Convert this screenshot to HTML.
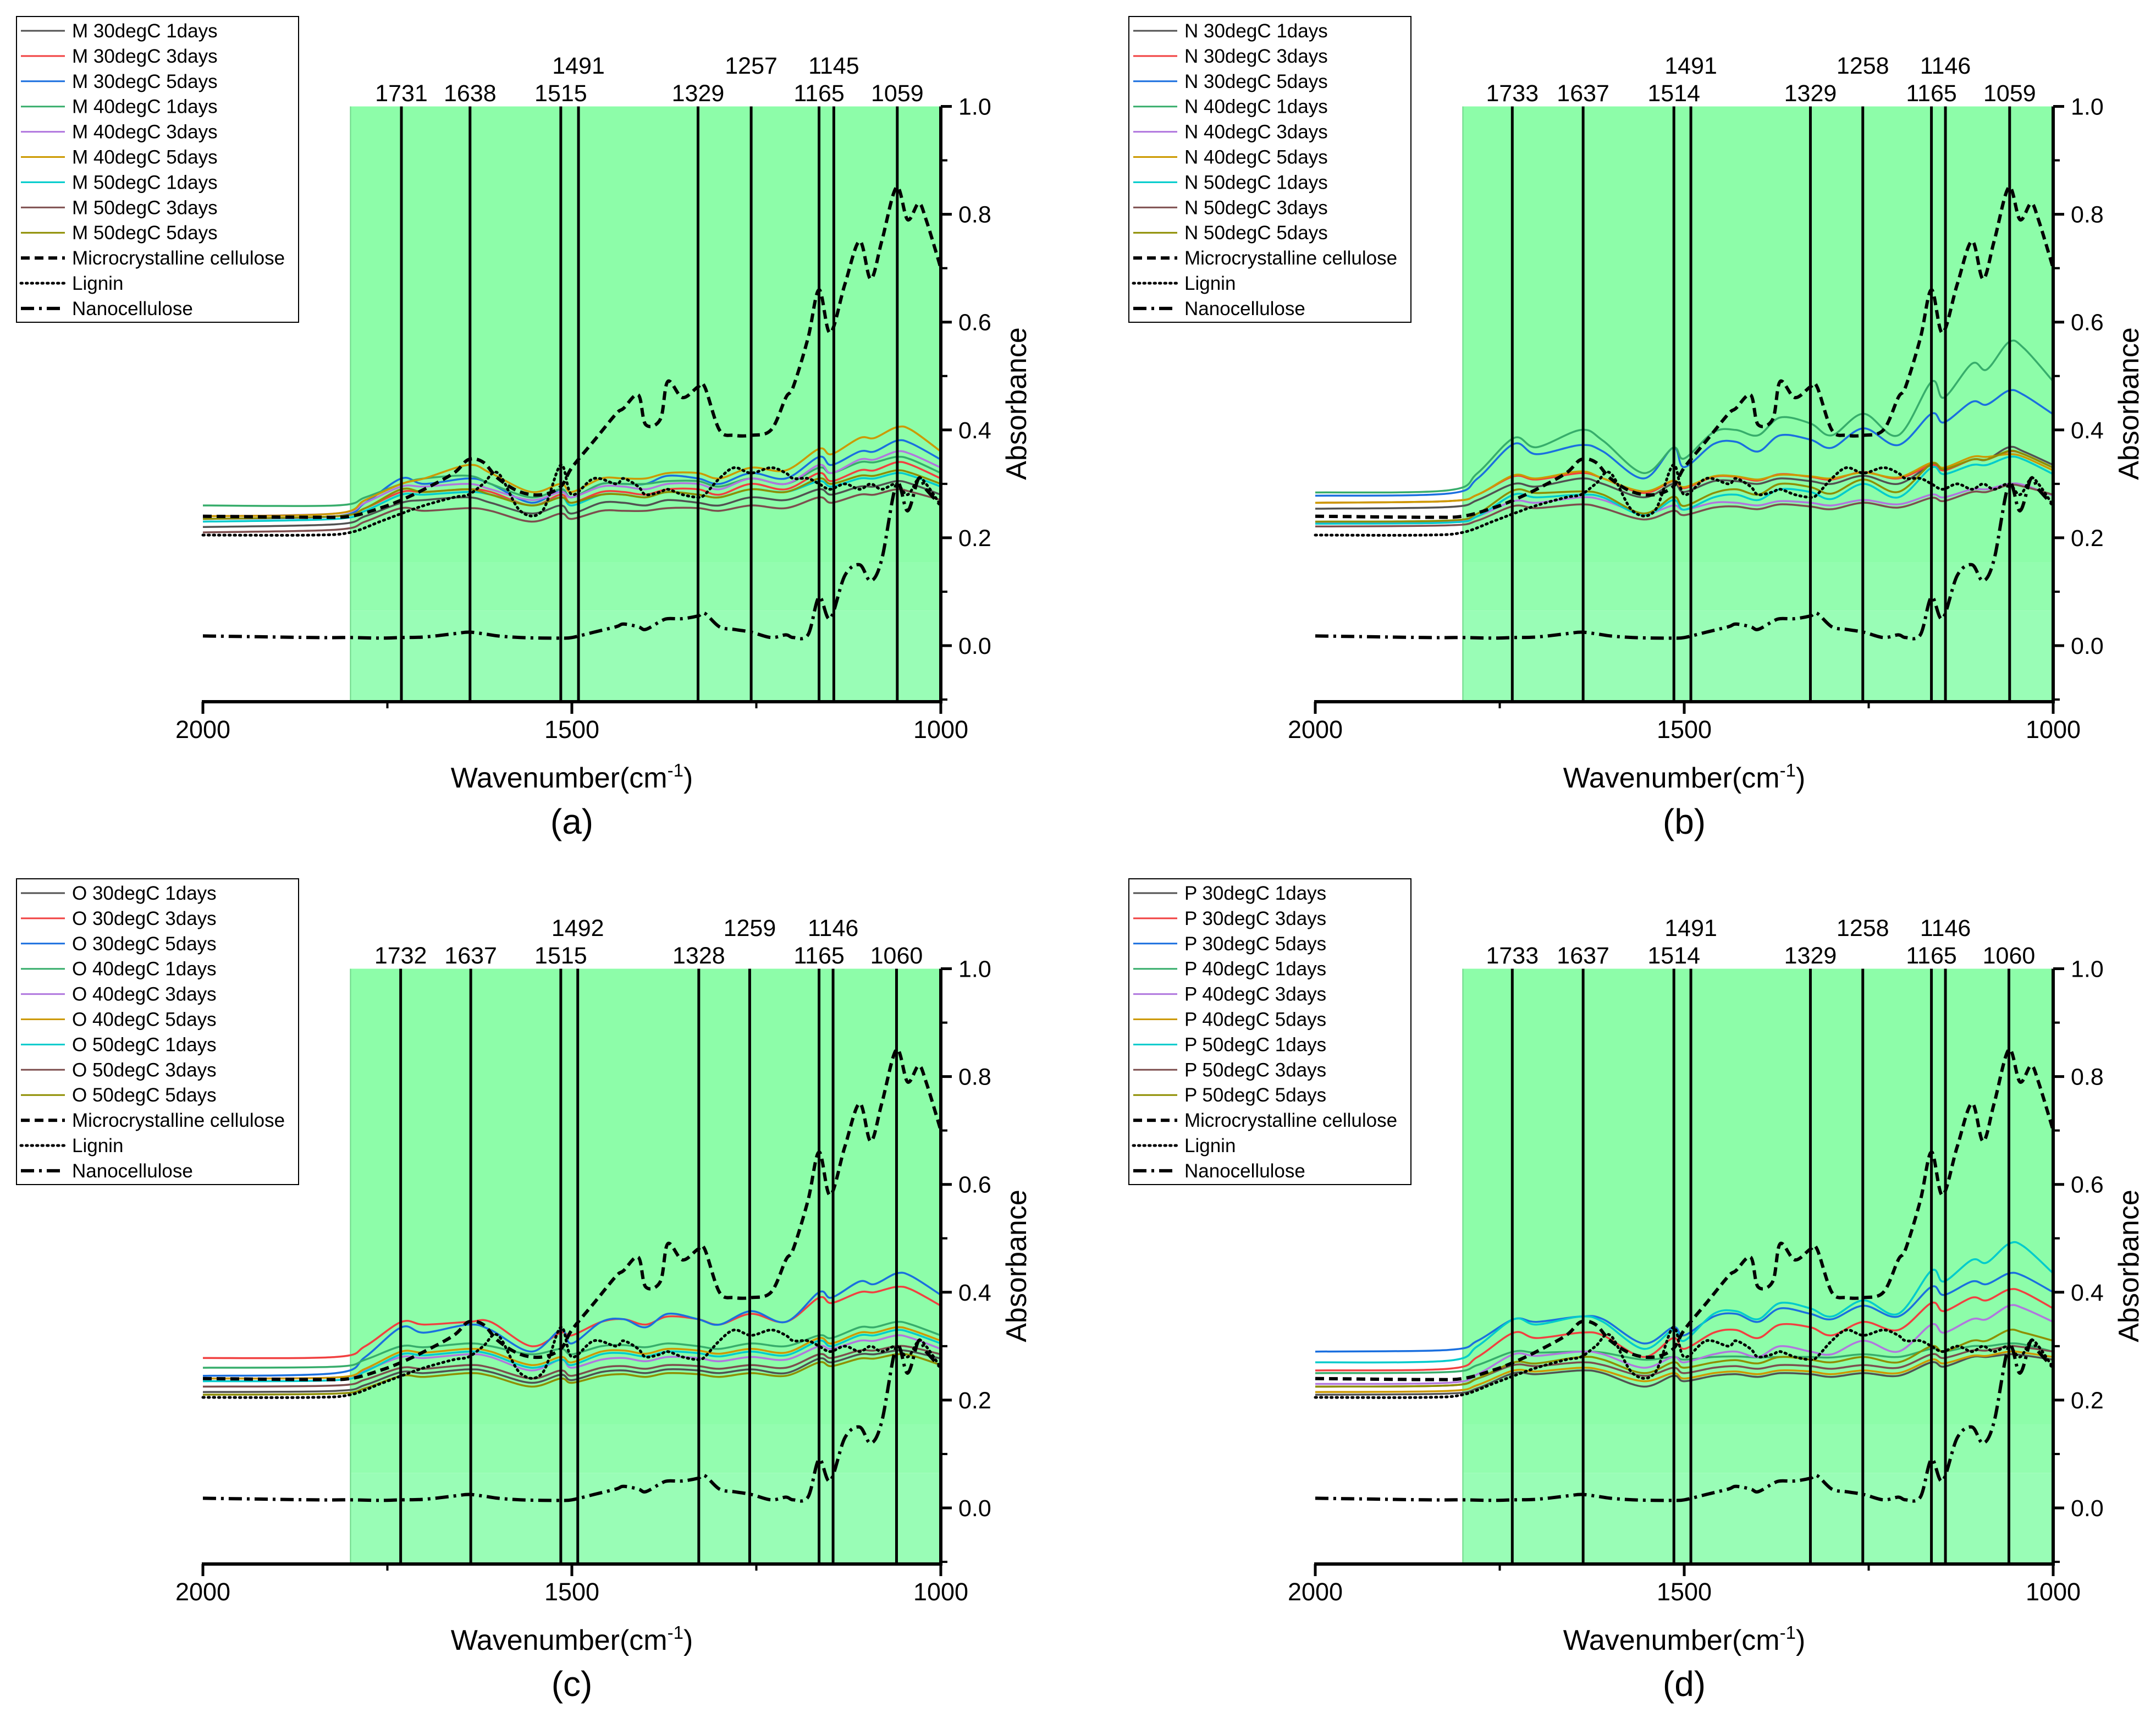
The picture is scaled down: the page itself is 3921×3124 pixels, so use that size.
<!DOCTYPE html>
<html><head><meta charset="utf-8"><style>
html,body{margin:0;padding:0;background:#fff}
svg{display:block}
text{font-family:"Liberation Sans",Arial,sans-serif;fill:#000}
</style></head><body>
<svg id="chart" xmlns="http://www.w3.org/2000/svg" width="3921" height="3124" viewBox="0 0 3921 3124"></svg>
<script>
// ---- data ----
const sampleWavenumbers = [2000,1820,1780,1731,1700,1640,1610,1555,1515,1500,1460,1430,1400,1370,1329,1300,1257,1210,1165,1148,1110,1090,1060,1040,1000];
const refWavenumbers = [2000,1850,1800,1760,1731,1700,1660,1640,1620,1600,1570,1540,1515,1500,1470,1440,1430,1410,1400,1380,1370,1350,1329,1320,1300,1280,1257,1230,1210,1200,1180,1165,1150,1130,1110,1095,1080,1060,1045,1030,1020,1000];
const mccValues = [0.24,0.238,0.24,0.255,0.27,0.29,0.32,0.345,0.34,0.31,0.285,0.28,0.295,0.33,0.38,0.43,0.44,0.465,0.41,0.42,0.49,0.46,0.48,0.48,0.40,0.39,0.39,0.40,0.46,0.48,0.57,0.66,0.58,0.67,0.75,0.68,0.75,0.85,0.79,0.82,0.79,0.70];
const ligninValues = [0.205,0.205,0.21,0.23,0.245,0.26,0.275,0.28,0.30,0.32,0.25,0.25,0.335,0.28,0.31,0.30,0.31,0.295,0.28,0.285,0.29,0.28,0.275,0.28,0.31,0.33,0.32,0.33,0.32,0.31,0.31,0.30,0.29,0.30,0.29,0.30,0.29,0.30,0.28,0.31,0.30,0.26];
const nanoValues = [0.018,0.015,0.015,0.014,0.015,0.016,0.022,0.025,0.022,0.018,0.015,0.014,0.014,0.015,0.025,0.035,0.04,0.035,0.03,0.045,0.05,0.05,0.055,0.06,0.035,0.03,0.025,0.015,0.02,0.015,0.02,0.09,0.05,0.13,0.15,0.12,0.16,0.30,0.25,0.31,0.29,0.26];
const seriesNames = ["30degC 1days","30degC 3days","30degC 5days","40degC 1days","40degC 3days","40degC 5days","50degC 1days","50degC 3days","50degC 5days"];
const panelLetters = ["M","N","O","P"];
const panelTags = ["(a)","(b)","(c)","(d)"];
const yTicks = [0.0,0.2,0.4,0.6,0.8,1.0];
const yTickLabels = ["0.0","0.2","0.4","0.6","0.8","1.0"];
const xTicks = [2000,1500,1000];
const xTickLabels = ["2000","1500","1000"];
const peaksLowA = [1731,1638,1515,1329,1165,1059], peaksHighA = [1491,1257,1145];
const peaksLowB = [1733,1637,1514,1329,1165,1059], peaksHighB = [1491,1258,1146];
const peaksLowC = [1732,1637,1515,1328,1165,1060], peaksHighC = [1492,1259,1146];
const peaksLowD = [1733,1637,1514,1329,1165,1060], peaksHighD = [1491,1258,1146];
const panelA = [
[0.22,0.225,0.24,0.265,0.27,0.275,0.265,0.245,0.26,0.245,0.265,0.265,0.26,0.27,0.265,0.26,0.275,0.27,0.29,0.28,0.295,0.295,0.305,0.30,0.28],
[0.235,0.24,0.255,0.285,0.285,0.29,0.285,0.26,0.28,0.265,0.285,0.285,0.28,0.29,0.29,0.28,0.30,0.29,0.32,0.305,0.325,0.325,0.34,0.335,0.31],
[0.235,0.24,0.265,0.31,0.30,0.31,0.30,0.265,0.29,0.275,0.30,0.30,0.30,0.315,0.31,0.30,0.32,0.31,0.35,0.335,0.36,0.36,0.38,0.375,0.345],
[0.26,0.26,0.275,0.30,0.31,0.315,0.30,0.275,0.29,0.275,0.30,0.30,0.30,0.305,0.305,0.295,0.31,0.30,0.33,0.32,0.34,0.34,0.35,0.345,0.32],
[0.24,0.245,0.265,0.295,0.295,0.30,0.29,0.27,0.285,0.275,0.295,0.295,0.29,0.30,0.30,0.29,0.31,0.30,0.335,0.32,0.345,0.345,0.36,0.355,0.33],
[0.24,0.245,0.27,0.30,0.31,0.335,0.32,0.285,0.30,0.285,0.31,0.31,0.31,0.32,0.32,0.31,0.33,0.325,0.365,0.355,0.385,0.385,0.405,0.40,0.36],
[0.23,0.235,0.25,0.28,0.28,0.285,0.28,0.26,0.275,0.26,0.28,0.28,0.275,0.285,0.28,0.275,0.29,0.285,0.305,0.295,0.31,0.31,0.32,0.315,0.295],
[0.21,0.215,0.23,0.255,0.25,0.255,0.25,0.23,0.245,0.235,0.25,0.25,0.25,0.255,0.255,0.25,0.26,0.255,0.275,0.265,0.28,0.28,0.29,0.285,0.27],
[0.235,0.24,0.255,0.29,0.285,0.29,0.28,0.26,0.275,0.265,0.28,0.28,0.275,0.285,0.28,0.275,0.29,0.285,0.31,0.30,0.315,0.315,0.325,0.32,0.30]];
const panelB = [
[0.254,0.257,0.27,0.30,0.295,0.31,0.30,0.275,0.30,0.285,0.305,0.305,0.30,0.31,0.305,0.30,0.315,0.30,0.335,0.325,0.345,0.345,0.368,0.36,0.335],
[0.265,0.268,0.28,0.314,0.308,0.32,0.31,0.283,0.305,0.292,0.313,0.313,0.306,0.318,0.313,0.308,0.322,0.31,0.335,0.325,0.345,0.345,0.36,0.355,0.33],
[0.278,0.282,0.31,0.374,0.355,0.372,0.36,0.31,0.367,0.331,0.374,0.378,0.36,0.39,0.382,0.367,0.403,0.372,0.43,0.414,0.452,0.447,0.473,0.465,0.429],
[0.284,0.288,0.32,0.385,0.368,0.40,0.38,0.32,0.367,0.347,0.396,0.40,0.39,0.423,0.412,0.39,0.43,0.39,0.489,0.46,0.523,0.512,0.563,0.552,0.49],
[0.228,0.23,0.24,0.268,0.265,0.275,0.27,0.245,0.26,0.252,0.265,0.265,0.26,0.268,0.265,0.26,0.27,0.262,0.28,0.275,0.29,0.29,0.30,0.298,0.278],
[0.265,0.268,0.28,0.316,0.31,0.323,0.31,0.286,0.306,0.294,0.314,0.314,0.308,0.317,0.314,0.31,0.321,0.312,0.339,0.33,0.35,0.35,0.355,0.35,0.325],
[0.226,0.228,0.24,0.28,0.275,0.28,0.275,0.242,0.27,0.252,0.275,0.28,0.27,0.29,0.285,0.272,0.30,0.275,0.33,0.318,0.335,0.335,0.35,0.345,0.318],
[0.221,0.223,0.232,0.259,0.255,0.262,0.255,0.234,0.25,0.242,0.256,0.258,0.253,0.262,0.258,0.253,0.265,0.256,0.274,0.268,0.285,0.285,0.298,0.295,0.28],
[0.23,0.232,0.245,0.288,0.283,0.286,0.28,0.245,0.276,0.259,0.283,0.29,0.28,0.30,0.294,0.282,0.308,0.285,0.337,0.327,0.345,0.345,0.361,0.355,0.33]];
const panelC = [
[0.215,0.217,0.228,0.252,0.25,0.257,0.252,0.232,0.247,0.237,0.252,0.255,0.25,0.257,0.255,0.25,0.257,0.25,0.277,0.27,0.285,0.285,0.292,0.29,0.277],
[0.278,0.28,0.30,0.345,0.34,0.345,0.345,0.30,0.325,0.32,0.345,0.35,0.34,0.355,0.35,0.34,0.36,0.345,0.39,0.38,0.40,0.40,0.41,0.405,0.375],
[0.245,0.25,0.28,0.335,0.325,0.34,0.33,0.29,0.33,0.305,0.345,0.35,0.335,0.36,0.35,0.34,0.365,0.345,0.40,0.39,0.42,0.415,0.435,0.43,0.395],
[0.26,0.262,0.275,0.30,0.298,0.305,0.30,0.285,0.295,0.285,0.30,0.302,0.298,0.305,0.30,0.295,0.305,0.30,0.32,0.315,0.335,0.335,0.345,0.34,0.32],
[0.24,0.242,0.255,0.28,0.278,0.285,0.28,0.255,0.275,0.26,0.275,0.278,0.272,0.28,0.278,0.272,0.28,0.275,0.30,0.295,0.31,0.31,0.32,0.315,0.295],
[0.24,0.242,0.258,0.29,0.288,0.295,0.29,0.265,0.28,0.27,0.29,0.292,0.286,0.295,0.292,0.286,0.295,0.288,0.315,0.305,0.325,0.325,0.335,0.33,0.31],
[0.235,0.237,0.253,0.285,0.283,0.29,0.285,0.26,0.275,0.265,0.285,0.287,0.281,0.29,0.287,0.281,0.29,0.283,0.31,0.30,0.32,0.32,0.33,0.325,0.305],
[0.225,0.227,0.238,0.26,0.258,0.265,0.26,0.24,0.255,0.245,0.26,0.263,0.258,0.265,0.263,0.258,0.265,0.26,0.285,0.278,0.292,0.292,0.30,0.298,0.285],
[0.21,0.212,0.222,0.245,0.243,0.25,0.245,0.225,0.24,0.232,0.245,0.248,0.243,0.25,0.248,0.243,0.25,0.245,0.27,0.263,0.277,0.277,0.285,0.283,0.265]];
const panelD = [
[0.21,0.212,0.222,0.25,0.248,0.255,0.25,0.225,0.245,0.235,0.245,0.248,0.243,0.25,0.248,0.243,0.25,0.245,0.27,0.262,0.28,0.28,0.285,0.283,0.275],
[0.255,0.258,0.28,0.325,0.315,0.325,0.32,0.28,0.315,0.295,0.325,0.33,0.315,0.34,0.335,0.32,0.345,0.33,0.38,0.365,0.39,0.385,0.405,0.40,0.37],
[0.29,0.293,0.31,0.35,0.345,0.355,0.35,0.305,0.335,0.32,0.355,0.36,0.345,0.37,0.36,0.35,0.375,0.355,0.41,0.395,0.42,0.415,0.435,0.43,0.40],
[0.25,0.252,0.265,0.29,0.288,0.29,0.288,0.275,0.28,0.275,0.28,0.281,0.279,0.28,0.28,0.279,0.285,0.28,0.295,0.29,0.30,0.30,0.305,0.303,0.29],
[0.23,0.232,0.248,0.285,0.282,0.29,0.285,0.26,0.28,0.27,0.285,0.29,0.28,0.30,0.29,0.285,0.31,0.29,0.34,0.325,0.35,0.35,0.375,0.37,0.345],
[0.215,0.217,0.228,0.255,0.253,0.26,0.255,0.235,0.25,0.24,0.25,0.253,0.248,0.255,0.253,0.248,0.255,0.25,0.275,0.268,0.282,0.282,0.29,0.288,0.28],
[0.27,0.273,0.30,0.35,0.34,0.355,0.345,0.295,0.33,0.31,0.36,0.365,0.35,0.38,0.37,0.355,0.385,0.36,0.44,0.42,0.46,0.455,0.49,0.485,0.435],
[0.225,0.227,0.24,0.265,0.263,0.27,0.265,0.245,0.26,0.25,0.26,0.263,0.258,0.265,0.263,0.258,0.265,0.26,0.285,0.278,0.292,0.292,0.30,0.298,0.29],
[0.225,0.227,0.24,0.27,0.268,0.28,0.275,0.25,0.27,0.26,0.27,0.274,0.268,0.28,0.275,0.27,0.28,0.27,0.30,0.29,0.31,0.31,0.33,0.325,0.31]];

// ---- rendering ----
const colors = ["#515151","#F14040","#1A6FDF","#37AD6B","#B177DE","#CC9900","#00CBCC","#7D4E4E","#8E8E00"];
const NS = "http://www.w3.org/2000/svg";
const svg = document.getElementById("chart");
function mk(tag, attrs, parent){const e=document.createElementNS(NS,tag);for(const k in attrs)e.setAttribute(k,attrs[k]);(parent||svg).appendChild(e);return e;}
function smooth(pts){let d="M"+pts[0][0].toFixed(1)+","+pts[0][1].toFixed(1);
 for(let i=0;i<pts.length-1;i++){const p0=pts[i-1]||pts[i],p1=pts[i],p2=pts[i+1],p3=pts[i+2]||p2;
  const c1=[p1[0]+(p2[0]-p0[0])/6,p1[1]+(p2[1]-p0[1])/6],c2=[p2[0]-(p3[0]-p1[0])/6,p2[1]-(p3[1]-p1[1])/6];
  d+=" C"+c1[0].toFixed(1)+","+c1[1].toFixed(1)+" "+c2[0].toFixed(1)+","+c2[1].toFixed(1)+" "+p2[0].toFixed(1)+","+p2[1].toFixed(1);}
 return d;}

const allPanels=[panelA,panelB,panelC,panelD];
const lows=[peaksLowA,peaksLowB,peaksLowC,peaksLowD], highs=[peaksHighA,peaksHighB,peaksHighC,peaksHighD];
const offs=[[0,0],[2023,0],[0,1568],[2023,1568]];

allPanels.forEach((data,pi)=>{
 const ox=offs[pi][0], oy=offs[pi][1];
 const g=mk("g",{transform:"translate("+ox+","+oy+")"});
 
 
 const X0=369,X1=1711,YT=193.5,YB=1276;
 const xs=w=>X0+(2000-w)*(X1-X0)/1000;
 const ys=v=>1174-v*980.5;
 const band=mk("g",{},g);
 
 
 mk("rect",{x:xs(1800),y:YT,width:X1-xs(1800),height:ys(0.155)-YT,fill:"#8DFDA9"},band);
 mk("rect",{x:xs(1800),y:ys(0.155),width:X1-xs(1800),height:ys(0.065)-ys(0.155),fill:"#93FDAF"},band);
 mk("rect",{x:xs(1800),y:ys(0.065),width:X1-xs(1800),height:YB-ys(0.065),fill:"#99FDB6"},band);
 mk("line",{x1:xs(1800),y1:YT,x2:xs(1800),y2:YB,stroke:"#6fd98a","stroke-width":2},band);
 data.forEach((vals,si)=>{
  const p=mk("path",{d:smooth(vals.map((v,i)=>[xs(sampleWavenumbers[i]),ys(v)])),fill:"none",stroke:colors[si],"stroke-width":3.5},g);
  
  
 });
 const refs=[[mccValues,"16 9",6,"butt","mcc"],[ligninValues,"2.5 7",5,"round","lignin"],[nanoValues,"24 9 5 9",6,"butt","nanocellulose"]];
 refs.forEach(r=>{
  const p=mk("path",{d:smooth(r[0].map((v,i)=>[xs(refWavenumbers[i]),ys(v)])),fill:"none",stroke:"#000","stroke-width":r[2],"stroke-dasharray":r[1],"stroke-linecap":r[3]},g);
  
  
 });
 lows[pi].concat(highs[pi]).forEach((w,k)=>{
  const isLow=k<lows[pi].length;
  const l=mk("line",{x1:xs(w),y1:YT,x2:xs(w),y2:YB,stroke:"#000","stroke-width":5},g);
  
  
  const t=mk("text",{x:xs(w),y:isLow?184:134,"font-size":43,"text-anchor":"middle"},g);
  t.textContent=String(w);
  
  
 });
 const xa=mk("line",{x1:X0-2,y1:YB,x2:X1+3,y2:YB,stroke:"#000","stroke-width":6},g);
 
 
 const ya=mk("line",{x1:X1,y1:YT,x2:X1,y2:YB+3,stroke:"#000","stroke-width":6},g);
 
 
 xTicks.forEach((w,i)=>{
  mk("line",{x1:xs(w),y1:YB,x2:xs(w),y2:YB+22,stroke:"#000","stroke-width":5},g);
  const t=mk("text",{x:xs(w),y:YB+66,"font-size":45,"text-anchor":"middle"},g);
  t.textContent=xTickLabels[i];
  
  
 });
 [1750,1250].forEach(w=>mk("line",{x1:xs(w),y1:YB,x2:xs(w),y2:YB+12,stroke:"#000","stroke-width":4},g));
 yTicks.forEach((v,i)=>{
  mk("line",{x1:X1,y1:ys(v),x2:X1+20,y2:ys(v),stroke:"#000","stroke-width":5},g);
  const t=mk("text",{x:X1+32,y:ys(v)+15,"font-size":43},g);
  t.textContent=yTickLabels[i];
  
  
 });
 [-0.1,0.1,0.3,0.5,0.7,0.9].forEach(v=>mk("line",{x1:X1,y1:ys(v),x2:X1+12,y2:ys(v),stroke:"#000","stroke-width":4},g));
 const yt=mk("text",{x:0,y:0,"font-size":52,"text-anchor":"middle",transform:"translate(1866,734) rotate(-90)"},g);
 yt.textContent="Absorbance";
 
 
 const xt=mk("text",{x:1040,y:1432,"font-size":52,"text-anchor":"middle"},g);
 xt.innerHTML='Wavenumber(cm<tspan dy="-20" font-size="33">-1</tspan><tspan dy="20">)</tspan>';
 
 
 const tag=mk("text",{x:1040,y:1516,"font-size":64,"text-anchor":"middle"},g);
 tag.textContent=panelTags[pi];
 
 
 const lg=mk("g",{},g);
 
 
 mk("rect",{x:30,y:30,width:513,height:556,fill:"#fff",stroke:"#000","stroke-width":2},lg);
 const labels=seriesNames.map(s=>panelLetters[pi]+" "+s).concat(["Microcrystalline cellulose","Lignin","Nanocellulose"]);
 labels.forEach((lab,i)=>{
  const cy=56+45.9*i;
  const e=mk("g",{},lg);
  
  
  if(i<9) mk("line",{x1:38,y1:cy,x2:118,y2:cy,stroke:colors[i],"stroke-width":3},e);
  else { const r=refs[i-9]; mk("line",{x1:38,y1:cy,x2:118,y2:cy,stroke:"#000","stroke-width":r[2],"stroke-dasharray":r[1],"stroke-linecap":r[3]},e); }
  const t=mk("text",{x:131,y:cy+12,"font-size":35},e);
  t.textContent=lab;
 });
});
</script>
</body></html>
